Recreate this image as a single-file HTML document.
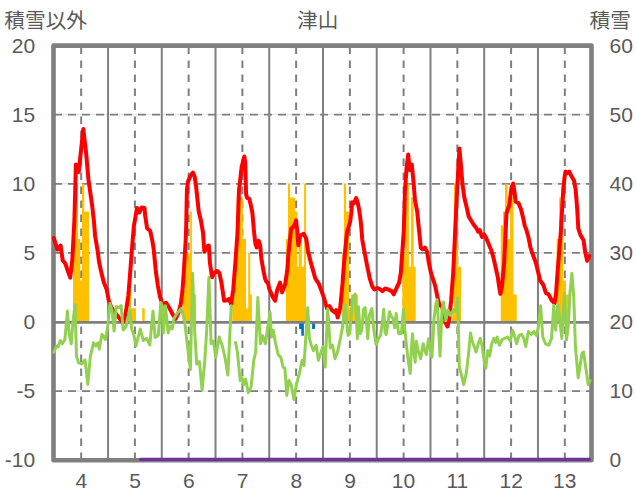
<!DOCTYPE html>
<html lang="ja"><head><meta charset="utf-8"><title>津山</title>
<style>
html,body{margin:0;padding:0;background:#fff;}
body{width:636px;height:501px;overflow:hidden;font-family:"Liberation Sans",sans-serif;}
</style></head><body>
<svg width="636" height="501" viewBox="0 0 636 501" style="display:block">
<rect width="636" height="501" fill="#fff"/>
<line x1="53.5" x2="591.5" y1="114.70" y2="114.70" stroke="#d4d4d4" stroke-width="0.8"/>
<line x1="54.0" x2="591.5" y1="114.70" y2="114.70" stroke="#7f7f7f" stroke-width="1.8" stroke-dasharray="8 6"/>
<line x1="53.5" x2="591.5" y1="183.80" y2="183.80" stroke="#d4d4d4" stroke-width="0.8"/>
<line x1="54.0" x2="591.5" y1="183.80" y2="183.80" stroke="#7f7f7f" stroke-width="1.8" stroke-dasharray="8 6"/>
<line x1="53.5" x2="591.5" y1="252.90" y2="252.90" stroke="#d4d4d4" stroke-width="0.8"/>
<line x1="54.0" x2="591.5" y1="252.90" y2="252.90" stroke="#7f7f7f" stroke-width="1.8" stroke-dasharray="8 6"/>
<line x1="53.5" x2="591.5" y1="391.10" y2="391.10" stroke="#d4d4d4" stroke-width="0.8"/>
<line x1="54.0" x2="591.5" y1="391.10" y2="391.10" stroke="#7f7f7f" stroke-width="1.8" stroke-dasharray="8 6"/>
<line x1="108.04" x2="108.04" y1="45.6" y2="460.2" stroke="#7f7f7f" stroke-width="2"/>
<line x1="161.78" x2="161.78" y1="45.6" y2="460.2" stroke="#7f7f7f" stroke-width="2"/>
<line x1="215.52" x2="215.52" y1="45.6" y2="460.2" stroke="#7f7f7f" stroke-width="2"/>
<line x1="269.26" x2="269.26" y1="45.6" y2="460.2" stroke="#7f7f7f" stroke-width="2"/>
<line x1="323.00" x2="323.00" y1="45.6" y2="460.2" stroke="#7f7f7f" stroke-width="2"/>
<line x1="376.74" x2="376.74" y1="45.6" y2="460.2" stroke="#7f7f7f" stroke-width="2"/>
<line x1="430.48" x2="430.48" y1="45.6" y2="460.2" stroke="#7f7f7f" stroke-width="2"/>
<line x1="484.22" x2="484.22" y1="45.6" y2="460.2" stroke="#7f7f7f" stroke-width="2"/>
<line x1="537.96" x2="537.96" y1="45.6" y2="460.2" stroke="#7f7f7f" stroke-width="2"/>
<line x1="81.17" x2="81.17" y1="46.4" y2="460.2" stroke="#7f7f7f" stroke-width="2" stroke-dasharray="7.5 6.5"/>
<line x1="134.91" x2="134.91" y1="46.4" y2="460.2" stroke="#7f7f7f" stroke-width="2" stroke-dasharray="7.5 6.5"/>
<line x1="188.65" x2="188.65" y1="46.4" y2="460.2" stroke="#7f7f7f" stroke-width="2" stroke-dasharray="7.5 6.5"/>
<line x1="242.39" x2="242.39" y1="46.4" y2="460.2" stroke="#7f7f7f" stroke-width="2" stroke-dasharray="7.5 6.5"/>
<line x1="296.13" x2="296.13" y1="46.4" y2="460.2" stroke="#7f7f7f" stroke-width="2" stroke-dasharray="7.5 6.5"/>
<line x1="349.87" x2="349.87" y1="46.4" y2="460.2" stroke="#7f7f7f" stroke-width="2" stroke-dasharray="7.5 6.5"/>
<line x1="403.61" x2="403.61" y1="46.4" y2="460.2" stroke="#7f7f7f" stroke-width="2" stroke-dasharray="7.5 6.5"/>
<line x1="457.35" x2="457.35" y1="46.4" y2="460.2" stroke="#7f7f7f" stroke-width="2" stroke-dasharray="7.5 6.5"/>
<line x1="511.09" x2="511.09" y1="46.4" y2="460.2" stroke="#7f7f7f" stroke-width="2" stroke-dasharray="7.5 6.5"/>
<line x1="564.83" x2="564.83" y1="46.4" y2="460.2" stroke="#7f7f7f" stroke-width="2" stroke-dasharray="7.5 6.5"/>
<path d="M73.0 322.0V239.1H75.6V183.8H78.0V239.1H80.2V280.5H82.0V183.8H84.2V211.4H89.0V322.0ZM129.2 322.0V290.2H131.4V308.2H136.0V322.0ZM142.2 322.0V308.2H144.8V322.0ZM182.5 322.0V290.2H184.7V252.9H190.1V211.4H191.9V294.4H196.1V322.0ZM232.2 322.0V294.4H234.5V252.9H236.7V197.6H242.8V239.1H246.0V308.2H248.2V252.9H250.2V294.4H251.9V322.0ZM285.9 322.0V239.1H288.0V183.8H290.1V197.6H295.1V211.4H297.2V266.7H298.7V239.1H301.8V266.7H304.1V183.8H306.1V322.0ZM342.2 322.0V252.9H343.9V183.8H346.1V211.4H349.0V308.2H351.1V294.4H357.8V322.0ZM402.3 322.0V252.9H405.0V197.6H407.0V183.8H408.9V266.7H411.0V197.6H413.7V266.7H415.7V322.0ZM452.2 322.0V308.2H453.9V183.8H458.0V266.7H461.1V322.0ZM500.8 322.0V225.3H503.0V211.4H505.0V183.8H507.8V239.1H510.0V197.6H513.5V294.4H516.7V322.0ZM556.6 322.0V239.1H559.2V197.6H561.3V183.8H563.4V280.5H566.0V294.4H568.7V322.0Z" fill="#ffc000"/>
<path d="M299.1 322.0V328.9H301.3V335.8H303.9V322.0ZM312.1 322.0V328.9H315.0V322.0Z" fill="#0070c0"/>
<line x1="53.5" x2="591.5" y1="322.40" y2="322.40" stroke="#7f7f7f" stroke-width="2.6"/>
<rect x="53.5" y="45.6" width="538.0" height="414.59999999999997" fill="none" stroke="#7f7f7f" stroke-width="4.6" stroke-linejoin="round"/>
<path d="M140.6 459.4H590.7" stroke="#7030a0" stroke-width="3.2" fill="none"/><circle cx="140.6" cy="459.4" r="1.6" fill="#7030a0"/>
<polyline points="53.8,238.0 57.4,249.7 60.6,245.5 62.7,260.3 65.3,263.5 70.2,277.7 72.3,260.0 74.4,220.0 75.9,164.6 78.7,172.0 83.3,128.9 86.2,154.0 88.5,180.0 92.2,206.0 94.0,222.0 95.1,236.0 97.8,251.7 99.0,261.8 101.2,271.9 103.7,281.9 106.7,289.5 108.7,300.4 111.2,307.1 114.6,312.1 119.2,318.0 122.9,322.6 125.1,316.9 126.7,306.5 128.3,296.0 130.0,275.0 131.5,255.1 132.7,240.0 133.9,226.0 137.0,208.0 139.2,212.5 141.7,207.5 144.5,208.0 145.2,216.0 147.1,228.2 150.2,230.8 152.2,240.0 153.6,248.4 154.6,258.5 155.9,271.9 157.8,285.3 160.0,297.0 162.7,304.6 166.1,302.9 169.4,308.0 172.8,314.7 175.6,318.9 178.7,312.1 180.8,303.8 182.5,290.3 183.7,273.6 184.7,256.8 185.7,240.0 186.2,226.4 186.9,190.0 188.0,181.6 190.8,175.2 192.9,172.6 194.6,176.3 196.0,185.8 198.7,211.3 200.8,220.0 203.0,232.7 204.4,251.8 207.1,246.5 208.8,245.5 209.9,262.5 212.0,277.3 214.1,273.0 217.3,271.0 219.4,273.0 221.6,283.7 224.1,300.7 226.9,300.3 229.0,299.0 231.1,303.9 233.2,290.0 235.4,262.5 237.5,232.7 239.0,190.0 241.7,166.7 244.3,156.5 245.2,162.5 246.1,194.3 247.0,197.8 249.1,198.6 250.8,205.0 252.4,213.0 254.2,233.6 255.4,243.7 256.7,247.5 258.7,240.8 260.1,245.3 261.4,258.8 263.4,270.5 265.1,278.7 266.4,281.8 267.9,282.6 269.3,289.0 272.5,296.4 275.1,300.7 277.2,290.0 280.0,282.6 282.1,292.2 285.3,283.7 287.4,268.8 288.5,253.0 289.4,245.3 291.1,228.8 294.0,226.0 296.1,220.4 297.3,231.9 298.3,245.3 300.3,235.5 303.7,233.9 306.2,238.6 307.9,250.4 310.3,260.5 312.1,267.1 315.4,278.7 318.8,283.7 322.0,292.2 324.8,300.7 326.9,308.1 329.4,306.0 332.0,310.2 334.8,312.4 336.2,310.2 337.7,317.5 340.2,308.0 342.5,283.7 343.7,267.1 345.2,250.3 346.5,237.0 347.2,231.5 348.6,227.0 350.2,221.5 351.3,212.0 352.2,202.3 354.0,203.2 356.2,198.0 357.8,203.0 359.2,210.2 360.2,217.0 361.2,226.0 362.3,240.0 364.8,253.6 367.4,267.2 369.9,279.0 372.4,286.7 374.5,289.4 377.5,288.0 380.1,289.2 382.5,291.1 385.3,288.4 388.5,289.6 391.7,291.1 393.8,294.3 396.6,287.9 399.1,282.6 400.8,273.1 402.3,251.8 403.8,230.6 405.0,190.0 406.5,168.8 408.2,154.6 409.7,169.9 411.8,164.6 413.5,181.6 415.0,200.7 417.2,211.3 418.6,226.0 419.3,232.7 420.8,247.6 422.5,249.3 425.0,247.6 427.1,251.8 428.8,262.5 431.0,273.1 433.1,279.4 435.2,285.8 437.3,296.4 439.4,304.9 442.0,306.6 444.1,313.4 446.2,324.0 447.5,326.5 449.0,319.8 451.1,300.7 453.2,273.1 454.7,241.2 455.4,226.0 456.9,194.3 458.6,162.5 459.4,148.4 460.7,162.5 462.4,183.7 464.5,198.6 466.6,207.0 468.7,216.6 471.3,220.8 473.4,224.2 476.6,228.5 478.1,231.7 479.8,230.2 481.9,237.0 484.0,234.4 486.2,238.0 489.3,245.5 491.5,250.8 493.6,258.2 495.7,267.8 497.8,277.3 499.3,287.9 500.4,293.9 502.1,285.8 504.2,262.5 505.3,237.0 506.5,213.4 509.3,205.0 511.4,188.0 513.2,183.5 514.6,192.2 515.6,201.7 518.4,202.8 521.0,209.2 523.1,217.7 524.8,226.0 526.3,229.6 528.4,237.0 530.5,247.6 532.6,254.0 535.8,262.5 537.9,271.0 540.1,280.5 543.3,284.8 546.0,293.2 548.6,294.3 551.7,300.3 554.5,303.2 556.0,294.3 557.5,273.1 559.2,251.8 560.9,230.6 563.0,194.3 564.5,177.3 565.5,171.6 567.2,173.1 569.3,171.6 571.5,176.3 574.0,180.5 575.7,190.1 577.2,209.2 578.3,228.5 580.4,234.9 583.6,240.2 585.1,251.8 587.2,260.8 589.3,256.1" fill="none" stroke="#ff0000" stroke-width="4" stroke-linejoin="round" stroke-linecap="round"/>
<polyline points="53.8,352.3 56.4,346.0 58.1,347.0 60.2,340.6 62.3,343.8 64.9,339.6 67.4,310.9 69.1,333.2 71.2,343.8 72.9,322.6 75.1,304.6 76.5,356.6 78.7,362.9 81.8,364.0 84.0,360.8 85.0,359.8 87.8,384.2 90.3,356.6 93.5,342.8 95.6,346.0 97.8,342.8 99.3,349.1 102.0,334.3 105.6,339.6 107.7,326.8 109.9,303.5 112.0,309.9 114.1,331.1 116.2,306.7 119.0,307.7 121.1,305.6 123.2,330.0 126.0,326.8 129.6,309.9 131.7,329.0 133.9,335.3 136.0,346.0 140.2,329.0 143.4,340.6 146.6,338.5 149.8,344.9 153.0,310.9 155.1,337.5 158.3,335.3 160.8,302.4 162.2,305.8 163.3,332.9 165.4,305.8 168.2,332.9 170.3,326.1 172.2,328.9 174.1,318.0 177.7,312.6 181.2,308.5 184.5,319.3 187.2,343.8 190.4,369.6 192.6,273.2 194.8,332.9 196.7,364.2 199.4,361.5 202.1,390.0 204.8,360.1 206.7,330.2 208.9,277.2 211.1,343.8 213.5,341.1 215.7,357.4 219.2,337.0 222.5,346.5 225.2,358.8 227.9,375.0 231.2,305.8" fill="none" stroke="#92d050" stroke-width="3" stroke-linejoin="round" stroke-linecap="round"/>
<polyline points="235.5,342.4 237.4,352.0 240.2,380.5 242.1,377.8 243.7,384.6 245.6,379.1 248.3,392.7 251.0,387.3 253.8,360.1 255.7,352.0 257.8,297.6 260.5,343.8 262.7,335.7 265.4,343.8 267.9,326.1 270.1,312.6 271.4,337.1 273.3,330.3 275.4,342.5 278.2,354.7 280.9,357.4 283.0,367.0 284.9,368.3 286.8,395.5 289.0,380.5 291.2,384.6 293.9,399.6 296.4,384.6 299.3,373.8 302.1,360.2 304.0,365.6 307.7,307.8 309.4,338.4 311.3,345.2 313.5,350.7 316.2,345.2 318.4,360.2 321.1,352.0 323.0,346.6 325.2,367.0 327.7,308.8 330.3,347.9 332.5,345.2 335.0,358.8 337.5,352.1 340.0,340.4 342.6,326.9 344.2,310.2 345.4,305.1 346.7,323.6 348.1,335.3 349.8,333.7 351.4,310.2 353.1,296.7 355.1,294.2 356.5,318.6 357.3,338.7 358.5,306.8 360.2,333.7 361.8,330.3 363.5,309.3 365.2,307.7 366.9,326.9 367.7,338.7 369.4,315.2 371.9,308.5 373.6,328.6 376.1,344.6 378.6,338.7 380.6,335.3 382.8,318.6 383.7,309.3 385.0,332.0 386.2,334.5 387.9,323.6 389.5,311.8 391.2,316.0 392.9,318.6 394.6,327.8 396.2,313.5 397.4,325.3 398.8,333.7 401.3,333.7 403.5,309.3 404.6,326.9 406.3,343.7 408.0,358.8 410.2,373.5 411.2,352.0 412.5,333.7 413.9,352.1 415.2,362.2 416.4,341.2 418.1,350.4 420.6,358.8 423.1,343.7 424.8,350.4 426.4,354.6 428.6,338.7 430.6,350.4 432.0,357.1 434.0,318.6 435.7,305.1 437.1,299.8 438.6,326.9 440.0,356.3 442.0,309.9 443.5,302.0 445.8,320.8 447.9,309.9 450.1,315.3 453.4,309.9 456.1,311.3 457.7,298.0 459.3,367.0 461.5,375.1 463.7,384.6 466.4,372.4 468.3,356.1 470.5,333.0 472.2,341.1 474.1,346.5 476.0,352.0 478.2,343.8 480.3,338.4 482.2,346.5 484.1,360.1 485.8,368.3 487.7,350.6 489.6,356.0 491.7,343.8 493.9,338.4 495.8,342.4 497.2,337.0 499.3,345.2 502.1,339.7 504.8,338.4 507.5,337.0 510.2,341.1 512.7,330.2 514.8,337.0 516.7,343.8 518.9,335.7 521.6,334.3 523.8,338.4 525.7,346.5 528.4,331.6 531.1,334.3 533.9,331.6 536.6,335.7 538.5,326.1 540.6,305.8 542.8,337.0 545.5,343.8 548.8,345.2 551.5,338.4 553.8,305.2 555.6,330.2 557.8,305.2 559.7,319.3 561.8,338.4 564.4,293.3 566.5,339.7 568.4,324.8 570.0,292.2 571.9,273.2 573.8,297.6 575.4,346.5 578.2,377.8 580.1,365.5 582.0,353.3 583.6,352.0 585.5,365.5 588.2,384.6 590.1,380.5" fill="none" stroke="#92d050" stroke-width="3" stroke-linejoin="round" stroke-linecap="round"/>
<g fill="#595959" font-family="&quot;Liberation Sans&quot;, &quot;Noto Sans CJK JP&quot;, sans-serif">
<text x="4.3" y="27.8" font-size="20.7">積雪以外</text>
<text x="297.2" y="27.5" font-size="20.5">津山</text>
<text x="589.5" y="27.8" font-size="20.7">積雪</text>
<g font-size="21" text-anchor="end">
<text x="35.2" y="52.7">20</text>
<text x="35.2" y="121.8">15</text>
<text x="35.2" y="190.9">10</text>
<text x="35.2" y="260">5</text>
<text x="35.2" y="329.1">0</text>
<text x="35.2" y="398.2">-5</text>
<text x="35.2" y="467.3">-10</text>
</g>
<g font-size="21" text-anchor="start">
<text x="609.5" y="467.4">0</text>
<text x="609.5" y="398.3">10</text>
<text x="609.5" y="329.2">20</text>
<text x="609.5" y="260.1">30</text>
<text x="609.5" y="191">40</text>
<text x="609.5" y="121.9">50</text>
<text x="609.5" y="52.8">60</text>
</g>
<g font-size="21" text-anchor="middle">
<text x="81.4" y="487.5">4</text>
<text x="135.2" y="487.5">5</text>
<text x="188.8" y="487.5">6</text>
<text x="242.6" y="487.5">7</text>
<text x="296.3" y="487.5">8</text>
<text x="350.1" y="487.5">9</text>
<text x="403.4" y="487.5">10</text>
<text x="457.4" y="487.5">11</text>
<text x="511.2" y="487.5">12</text>
<text x="564.7" y="487.5">13</text>
</g>
</g>
</svg>
</body></html>
